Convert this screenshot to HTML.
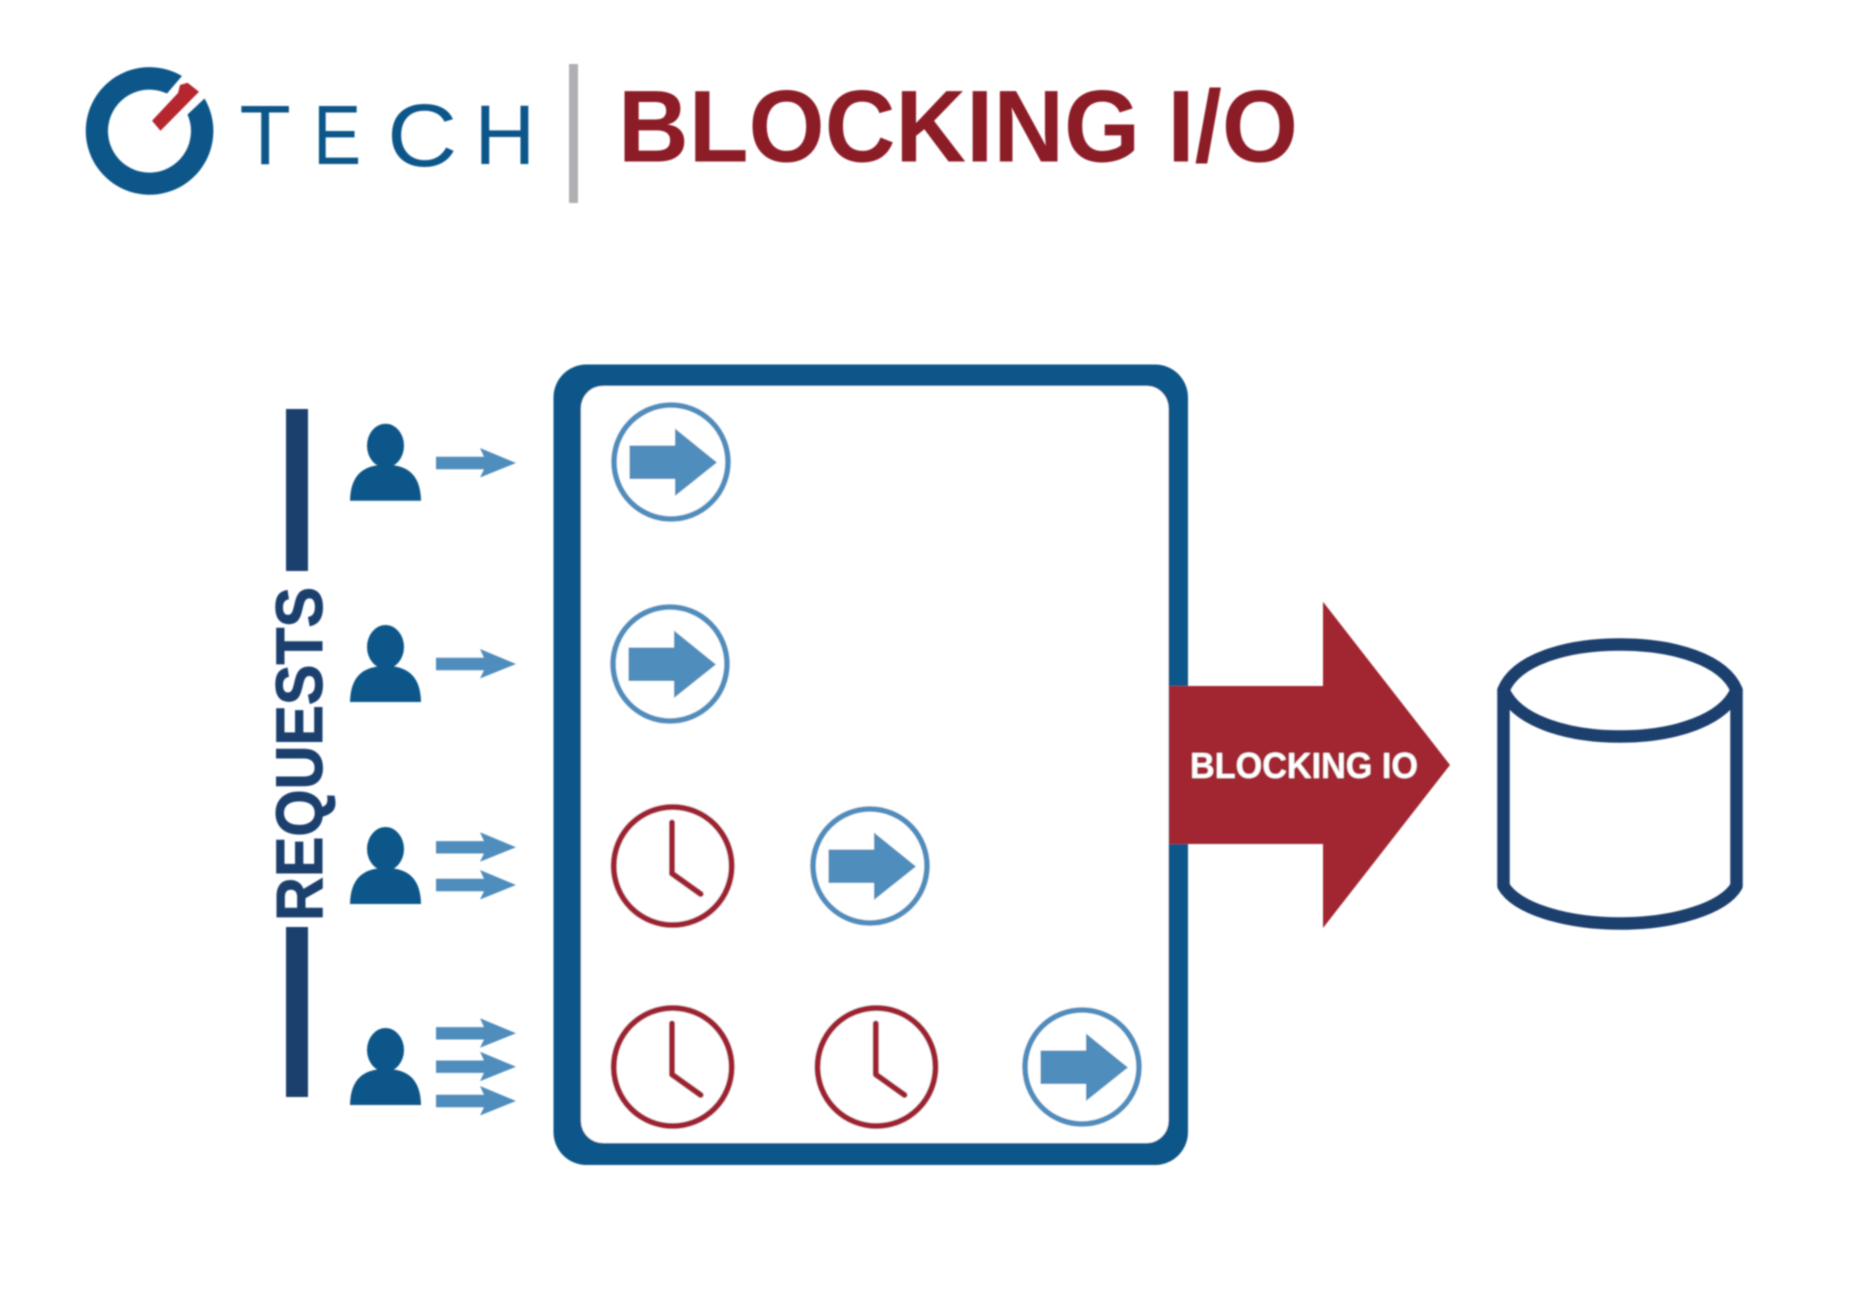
<!DOCTYPE html>
<html>
<head>
<meta charset="utf-8">
<style>
html,body{margin:0;padding:0;background:#fff;width:1872px;height:1308px;overflow:hidden}
svg{display:block}
text{font-family:"Liberation Sans",sans-serif}
</style>
</head>
<body>
<svg width="1872" height="1308" viewBox="0 0 1872 1308" xmlns="http://www.w3.org/2000/svg">
<defs>
<filter id="b" x="-2%" y="-2%" width="104%" height="104%"><feGaussianBlur stdDeviation="0.7"/></filter>
<g id="person" fill="#115689">
  <ellipse cx="0" cy="-55" rx="18.500" ry="22"/>
  <path d="M-35.500 0C-35-24-24-36 0-36C24-36 35-24 35.500 0Z"/>
</g>
<path id="sa" fill="#4f8dbd" d="M436-6.200H484L480-15L516 0L480 14.500L484 6.200H436Z"/>
<g id="ca">
  <circle cx="0" cy="0" r="57" fill="#fff" stroke="#4f8dbd" stroke-width="5.600"/>
  <path fill="#4f8dbd" d="M-41.500-16.500H4V-33.500L46 0.500L4 34V17H-41.500Z"/>
</g>
<g id="clock" fill="none" stroke="#9e2430" stroke-width="6" stroke-linecap="round" stroke-linejoin="round">
  <circle cx="0" cy="0" r="59"/>
  <path d="M-0.700-43.500V7.500L28 28"/>
</g>
</defs>
<rect width="1872" height="1308" fill="#fff"/>
<g filter="url(#b)">
  <!-- logo -->
  <path d="M204.500 98.500A63.800 63.800 0 1 1 182 76L167 93.500A41.500 41.500 0 1 0 187.500 114.500Z" fill="#115689"/>
  <path d="M152 120.700L178 93L180 85L187.500 82.700L199 91.700L160.500 130.700Z" fill="#b5252d"/>
  <g fill="#115689" font-size="84">
    <text transform="translate(239.500 164) scale(1 1)">T</text>
    <text transform="translate(313 164) scale(0.86 1)">E</text>
    <text transform="translate(387 166) scale(1.16 1.06)">C</text>
    <text transform="translate(474.500 164) scale(1 1)">H</text>
  </g>
  <rect x="569" y="64" width="9" height="139" fill="#aeb0b3"/>
  <text x="618" y="161.700" font-size="102" font-weight="700" fill="#8c1a27" textLength="680" lengthAdjust="spacingAndGlyphs">BLOCKING I/O</text>

  <!-- requests -->
  <rect x="286" y="409" width="22" height="162" fill="#1c3f6e"/>
  <rect x="286" y="927" width="22" height="170" fill="#1c3f6e"/>
  <text transform="translate(322 921) rotate(-90)" font-size="66" font-weight="700" fill="#1c3f6e" stroke="#1c3f6e" stroke-width="1" textLength="334" lengthAdjust="spacingAndGlyphs">REQUESTS</text>

  <!-- people -->
  <use href="#person" x="385.500" y="500.700"/>
  <use href="#person" x="385.500" y="702"/>
  <use href="#person" x="385.500" y="904"/>
  <use href="#person" x="385.500" y="1105"/>

  <!-- small arrows -->
  <use href="#sa" y="463"/>
  <use href="#sa" y="664"/>
  <use href="#sa" y="847.300"/>
  <use href="#sa" y="885"/>
  <use href="#sa" y="1033.300"/>
  <use href="#sa" y="1066.700"/>
  <use href="#sa" y="1101"/>

  <!-- server box -->
  <rect x="553.500" y="364.500" width="634.500" height="800.500" rx="33" ry="33" fill="#115689"/>
  <rect x="581" y="386" width="587.500" height="757" rx="22" ry="22" fill="#fff"/>

  <!-- circles -->
  <use href="#ca" x="671" y="462"/>
  <use href="#ca" x="670" y="664"/>
  <use href="#clock" x="672.700" y="866"/>
  <use href="#ca" x="870" y="866"/>
  <use href="#clock" x="672.700" y="1067"/>
  <use href="#clock" x="876.500" y="1067"/>
  <use href="#ca" x="1082" y="1067"/>

  <!-- big arrow -->
  <path d="M1169 686H1323V601.700L1450 765L1323 928V844H1169Z" fill="#a12830"/>
  <text x="1190" y="778" font-size="36" font-weight="700" fill="#fff" textLength="228" lengthAdjust="spacingAndGlyphs">BLOCKING IO</text>

  <!-- database -->
  <g fill="none" stroke="#1c3f6e" stroke-width="12.500" stroke-linejoin="round">
    <path d="M1503.500 690C1516 660 1565 644.500 1620 644.500C1675 644.500 1724 660 1736.500 690C1724 720 1675 736.500 1620 736.500C1565 736.500 1516 720 1503.500 690Z"/>
    <path d="M1503.500 690V886C1516 908 1565 923.500 1620 923.500C1675 923.500 1724 908 1736.500 886V690"/>
  </g>
</g>
</svg>
</body>
</html>
